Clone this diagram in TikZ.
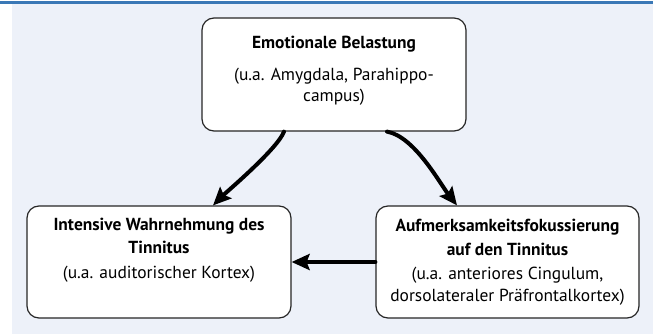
\documentclass[tikz,border=0pt]{standalone}
\usepackage{fontspec}
\setmainfont{PT Sans}
\usetikzlibrary{positioning, arrows.meta}

\definecolor{paneBlue}{HTML}{EDF1F9}
\definecolor{ruleBlue}{HTML}{3A78B6}

\begin{document}
\begin{tikzpicture}[
    x=1bp, y=1bp,
    % Global Styles
    >={Stealth[length=18bp, width=16bp, inset=3bp]},
    % The boxes
    area/.style={
        draw=black!85,
        line width=1.2bp,
        rounded corners=12bp,
        fill=white,
        minimum width=264bp,
        minimum height=112bp,
        inner sep=0
    },
    % Box texts
    words/.style={
        align=center,
        font=\fontsize{17.5}{21.5}\selectfont,
        inner sep=0,
        anchor=north
    },
    % Thick arrows
    link/.style={->, line width=4bp, line cap=round}
]
    \useasboundingbox (0,0) rectangle (653,335);

    % --- Background & top rule ---
    \fill[paneBlue] (12,1) rectangle (653,331);
    \draw[ruleBlue, line width=2.5bp] (0,332.5) -- (653,332.5);

    % --- Boxes ---
    \node[area, minimum height=113bp] (stress) at (334,260.5) {};
    \node[area] (percept) at (159,73) {};
    \node[area, minimum width=263bp] (focus) at (507.5,73) {};

    % --- Texts ---
    \node[words, below=19bp of stress.north] (stressTxt)
        {\textbf{Emotionale Belastung}\\[10bp]
         (u.a. Amygdala, Parahippo-\\campus)};
    \node[words, below=13bp of percept.north] (perceptTxt)
        {\textbf{Intensive Wahrnehmung des}\\[1bp]
         \textbf{Tinnitus}\\[4bp]
         (u.a. auditorischer Kortex)};
    \node[words, below=14bp of focus.north] (focusTxt)
        {\textbf{Aufmerksamkeitsfokussierung}\\[2bp]
         \textbf{auf den Tinnitus}\\[3bp]
         (u.a. anteriores Cingulum,\\
         dorsolateraler Präfrontalkortex)};

    % --- Arrows ---
    \draw[link] ([xshift=-50bp]stress.south) to[out=-110, in=45, looseness=0.45] ([xshift=54bp]percept.north);
    \draw[link] ([xshift=53bp]stress.south) to[out=-10, in=128, looseness=0.7] ([xshift=-50.5bp]focus.north);
    \draw[link] (focus.west) -- (percept.east);

\end{tikzpicture}
\end{document}
